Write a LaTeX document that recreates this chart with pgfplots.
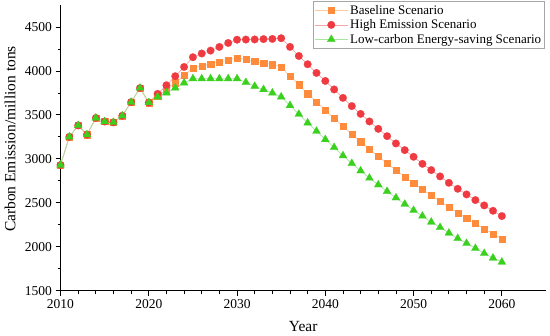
\documentclass[border=0pt]{standalone}
\usepackage{fontspec}
\setmainfont{Liberation Serif}
\usepackage{pgfplots}
\usepackage{pgfplotstable}
\pgfplotsset{compat=1.18}
\definecolor{cOrange}{RGB}{255,140,60}
\definecolor{cOrangeL}{RGB}{255,200,160}
\definecolor{cRed}{RGB}{238,58,64}
\definecolor{cRedL}{RGB}{245,165,170}
\definecolor{cGreen}{RGB}{58,208,30}
\definecolor{cGreenL}{RGB}{165,230,160}
\pgfplotstableread{
year base high low
2010 2930 2930 2930
2011 3250 3250 3250
2012 3380 3380 3380
2013 3275 3275 3275
2014 3465 3465 3465
2015 3425 3425 3425
2016 3415 3415 3415
2017 3490 3490 3490
2018 3645 3645 3645
2019 3805 3805 3805
2020 3640 3640 3640
2021 3720 3739 3705
2022 3777 3837 3750
2023 3868 3940 3807
2024 3948 4045 3864
2025 4034 4156 3912
2026 4055 4198 3912
2027 4082 4231 3912
2028 4102 4273 3912
2029 4123 4318 3912
2030 4148 4355 3912
2031 4130 4357 3870
2032 4110 4358 3826
2033 4091 4362 3789
2034 4073 4364 3750
2035 4045 4372 3705
2036 3940 4273 3607
2037 3845 4170 3508
2038 3743 4076 3409
2039 3648 3977 3315
2040 3553 3886 3220
2041 3459 3789 3130
2042 3368 3693 3036
2043 3280 3600 2948
2044 3197 3511 2864
2045 3110 3425 2781
2046 3027 3341 2705
2047 2948 3258 2630
2048 2872 3175 2557
2049 2795 3099 2485
2050 2720 3023 2414
2051 2652 2943 2349
2052 2584 2872 2281
2053 2516 2800 2220
2054 2451 2727 2156
2055 2386 2659 2095
2056 2326 2595 2039
2057 2266 2531 1982
2058 2205 2470 1925
2059 2148 2409 1872
2060 2088 2349 1826
}\datatable
\begin{document}
\begin{tikzpicture}
\useasboundingbox (-60.5pt,-45.3pt) rectangle (489.5pt,290.7pt);
\begin{axis}[
  at={(0,0)}, anchor=south west,
  scale only axis, width=485.5pt, height=285.7pt,
  xmin=2010, xmax=2065, ymin=1500, ymax=4750,
  axis lines=left, axis line style={-, line width=0.9pt},
  xtick={2010,2020,...,2060}, ytick={1500,2000,...,4500},
  minor x tick num=4, minor y tick num=1,
  tick align=outside,
  major tick length=5pt, minor tick length=3pt,
  tick style={black, line width=0.8pt},
  /pgf/number format/1000 sep={},
  /pgf/number format/assume math mode=true,
  ticklabel style={font=\fontsize{13.5}{13.5}\selectfont},
  xlabel={Year}, ylabel={Carbon Emission/million tons},
  xlabel style={font=\fontsize{15.5}{15.5}\selectfont, at={(axis description cs:0.5,-0.127)}, anchor=center},
  ylabel style={font=\fontsize{15.5}{15.5}\selectfont, at={(axis description cs:-0.104,0.531)}, anchor=center, rotate=0},
  legend style={at={(axis description cs:0.998,1.013)}, anchor=north east,
    draw=gray!70, line width=0.6pt, font=\fontsize{13}{13}\selectfont,
    inner sep=1.5pt, row sep=0pt, cells={anchor=west},
    legend cell align=left},
  legend image code/.code={
    \draw[#1, mark repeat=2, mark phase=2] plot coordinates {(0cm,0cm) (0.58cm,0cm) (1.16cm,0cm)};
  },
]
\addplot[color=cOrangeL, line width=0.7pt, mark=square*, mark size=3.1pt,
  mark options={draw=cOrange, fill=cOrange, line width=0.2pt}] table[x=year, y=base] {\datatable};
\addlegendentry{Baseline Scenario}
\addplot[color=cRedL, line width=0.7pt, mark=*, mark size=3.8pt,
  mark options={draw=cRed, fill=cRed, line width=0.2pt}] table[x=year, y=high] {\datatable};
\addlegendentry{High Emission Scenario}
\addplot[color=cGreenL, line width=0.7pt, mark=triangle*, mark size=4.6pt,
  mark options={draw=cGreen, fill=cGreen, line width=0.2pt}] table[x=year, y=low] {\datatable};
\addlegendentry{Low-carbon Energy-saving Scenario}
\end{axis}
\end{tikzpicture}
\end{document}
